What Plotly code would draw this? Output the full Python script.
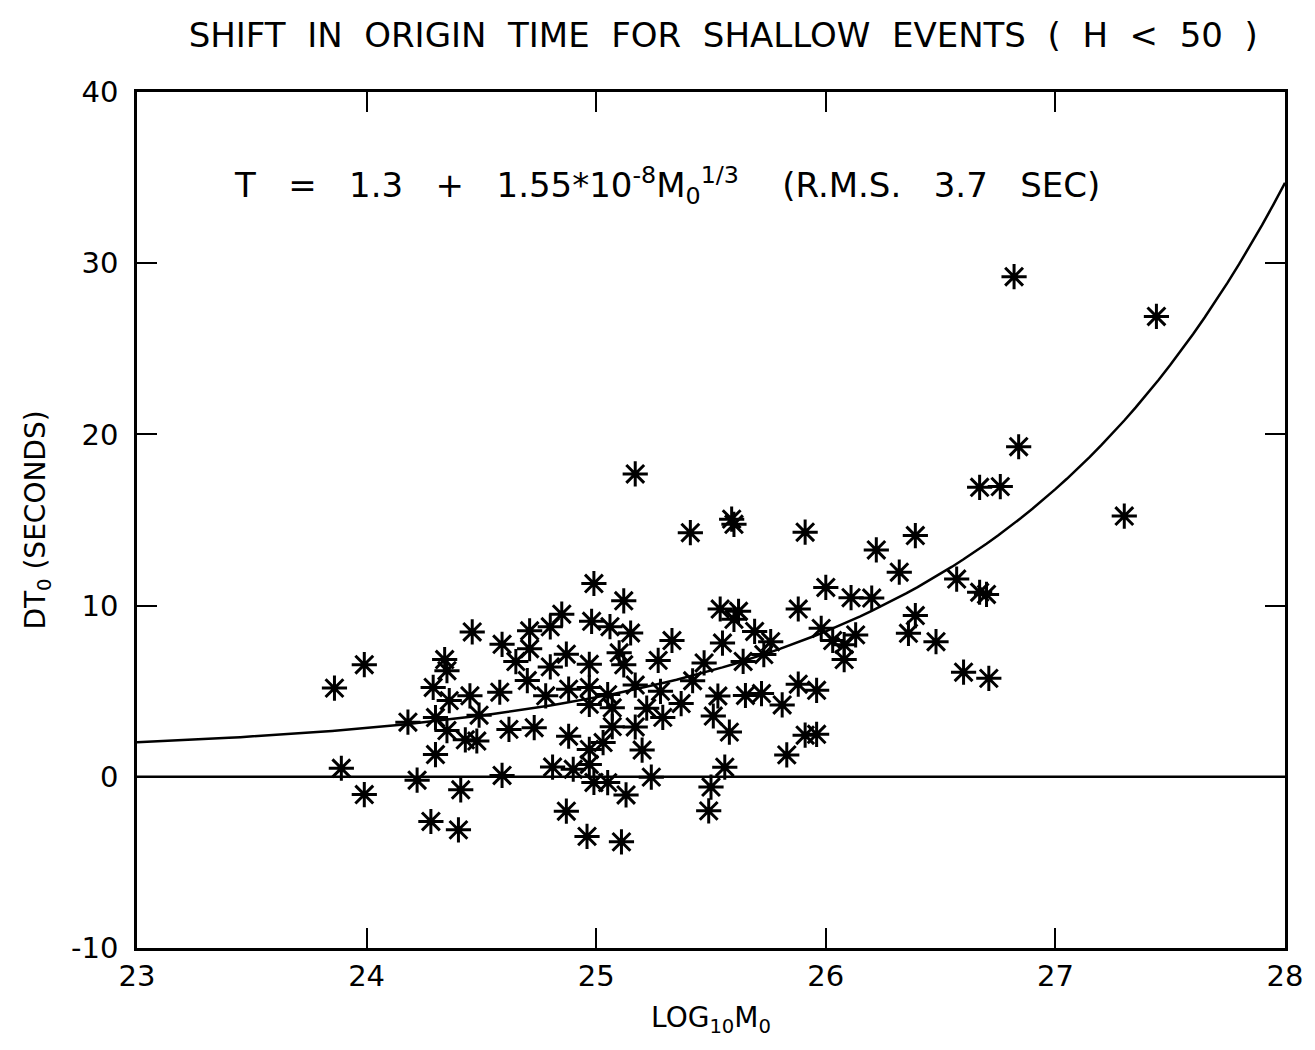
import plotly.graph_objects as go

# ---- data (log10 M0, shift in origin time DT0 in seconds) ----
log_m0 = [
    23.86, 23.89, 23.99, 23.99, 24.18, 24.22, 24.28, 24.29, 24.30, 24.30,
    24.34, 24.35, 24.35, 24.36, 24.40, 24.41, 24.43, 24.45, 24.46, 24.48,
    24.49, 24.58, 24.59, 24.59, 24.62, 24.65, 24.71, 24.71, 24.70, 24.73,
    24.78, 24.80, 24.80, 24.81, 24.85, 24.87, 24.88, 24.88, 24.87, 24.90,
    24.97, 24.97, 24.98, 24.97, 24.97, 24.96, 24.99, 24.97, 24.99, 25.03,
    25.05, 25.05, 25.06, 25.07, 25.07, 25.10, 25.12, 25.12, 25.11, 25.13,
    25.15, 25.17, 25.17, 25.17, 25.20, 25.22, 25.24, 25.27, 25.28, 25.29,
    25.33, 25.37, 25.41, 25.42, 25.47, 25.49, 25.50, 25.51, 25.53, 25.54,
    25.55, 25.56, 25.59, 25.60, 25.58, 25.60, 25.62, 25.64, 25.65, 25.69,
    25.72, 25.73, 25.76, 25.81, 25.83, 25.88, 25.88, 25.91, 25.91, 25.96,
    25.96, 25.98, 26.00, 26.03, 26.08, 26.08, 26.11, 26.13, 26.20, 26.22,
    26.32, 26.36, 26.39, 26.39, 26.48, 26.57, 26.60, 26.67, 26.70, 26.71,
    26.67, 26.76, 26.82, 26.84, 27.30, 27.44,
]
dt0 = [
    5.18, 0.50, 6.55, -1.04, 3.19, -0.20, -2.61, 5.22, 3.46, 1.30,
    6.85, 6.20, 2.70, 4.45, -3.10, -0.76, 2.16, 4.73, 8.46, 2.09,
    3.60, 4.94, 7.74, 0.08, 2.77, 6.73, 8.53, 7.48, 5.62, 2.87,
    4.73, 8.76, 6.42, 0.57, 9.50, 7.16, 5.12, 2.37, -2.01, 0.44,
    5.22, 4.23, 9.08, 1.60, 0.72, -3.48, 11.29, 6.57, -0.33, 2.00,
    4.80, -0.34, 8.77, 2.93, 4.03, 7.24, 10.28, 6.54, -3.80, -1.06,
    8.40, 17.69, 5.36, 2.91, 1.56, 4.01, -0.02, 6.80, 4.99, 3.47,
    7.96, 4.28, 14.26, 5.61, 6.65, -1.99, -0.60, 3.55, 4.72, 9.80,
    7.81, 0.56, 15.05, 14.75, 2.61, 9.20, 9.67, 6.74, 4.75, 8.49,
    4.86, 7.14, 7.89, 4.20, 1.28, 9.80, 5.41, 14.29, 2.43, 5.05,
    2.48, 8.67, 11.06, 7.96, 6.85, 7.72, 10.46, 8.29, 10.44, 13.25,
    11.95, 8.38, 9.42, 14.09, 7.89, 11.55, 6.11, 10.78, 10.65, 5.75,
    16.91, 16.95, 29.21, 19.28, 15.23, 26.89,
]

# fit shown on the chart: T = 1.3 + 1.55e-8 * M0^(1/3)
FIT_A = 1.3
FIT_B = 1.55e-8
curve_x = [23 + i * 0.05 for i in range(101)]
curve_y = [FIT_A + FIT_B * (10 ** x) ** (1.0 / 3.0) for x in curve_x]

zero_x = [23, 28]
zero_y = [0, 0]

x_ticks = [23, 24, 25, 26, 27, 28]
y_ticks = [-10, 0, 10, 20, 30, 40]

FONT = "DejaVu Sans"
SP = "&nbsp;"

fig = go.Figure()
fig.add_trace(go.Scatter(x=curve_x, y=curve_y, mode="lines",
                         line=dict(color="black", width=2.5), hoverinfo="skip"))
fig.add_trace(go.Scatter(x=zero_x, y=zero_y, mode="lines",
                         line=dict(color="black", width=2.5), hoverinfo="skip"))
fig.add_trace(go.Scatter(x=log_m0, y=dt0, mode="markers",
                         marker=dict(symbol="asterisk-open", size=21, color="black",
                                     line=dict(color="black", width=3))))

title_text = (SP * 2).join("SHIFT IN ORIGIN TIME FOR SHALLOW EVENTS ( H < 50 )".split(" "))
ann_text = ("T" + SP * 3 + "=" + SP * 3 + "1.3" + SP * 3 + "+" + SP * 3 +
            "1.55*10<sup>-8</sup>M<sub>0</sub><sup>1/3</sup>" + SP * 4 +
            "(R.M.S." + SP * 3 + "3.7" + SP * 3 + "SEC)")

fig.update_layout(
    width=1315, height=1050,
    paper_bgcolor="white", plot_bgcolor="white",
    showlegend=False,
    margin=dict(l=137, r=27, t=92, b=102),
    font=dict(family=FONT, color="black", size=26),
    title=dict(text=title_text,
               x=0.55, xanchor="center", y=0.967, yanchor="middle",
               font=dict(family=FONT, size=34, color="black")),
    xaxis=dict(range=[23, 28], tickvals=x_ticks, ticktext=[str(v) for v in x_ticks],
               ticks="inside", ticklen=20, tickwidth=2, tickcolor="black",
               showline=True, linecolor="black", linewidth=2.5, mirror="ticks",
               showgrid=False, zeroline=False,
               tickfont=dict(family=FONT, size=29),
               title=dict(text="LOG<sub>10</sub>M<sub>0</sub>", standoff=16,
                          font=dict(family=FONT, size=28))),
    yaxis=dict(range=[-10, 40], tickvals=y_ticks, ticktext=[str(v) for v in y_ticks],
               ticks="inside", ticklen=20, tickwidth=2, tickcolor="black",
               showline=True, linecolor="black", linewidth=2.5, mirror="ticks",
               showgrid=False, zeroline=False, ticklabelstandoff=10,
               tickfont=dict(family=FONT, size=29),
               title=dict(text="DT<sub>0</sub> (SECONDS)", standoff=18,
                          font=dict(family=FONT, size=28))),
    annotations=[dict(
        x=0.083, y=0.891, xref="paper", yref="paper", xanchor="left", yanchor="middle",
        showarrow=False,
        text=ann_text,
        font=dict(family=FONT, size=34, color="black"))],
)

fig.write_html(
    "out.html",
    config={"displayModeBar": False},
    post_script="document.body.style.margin='0';document.body.style.overflow='hidden';",
)
